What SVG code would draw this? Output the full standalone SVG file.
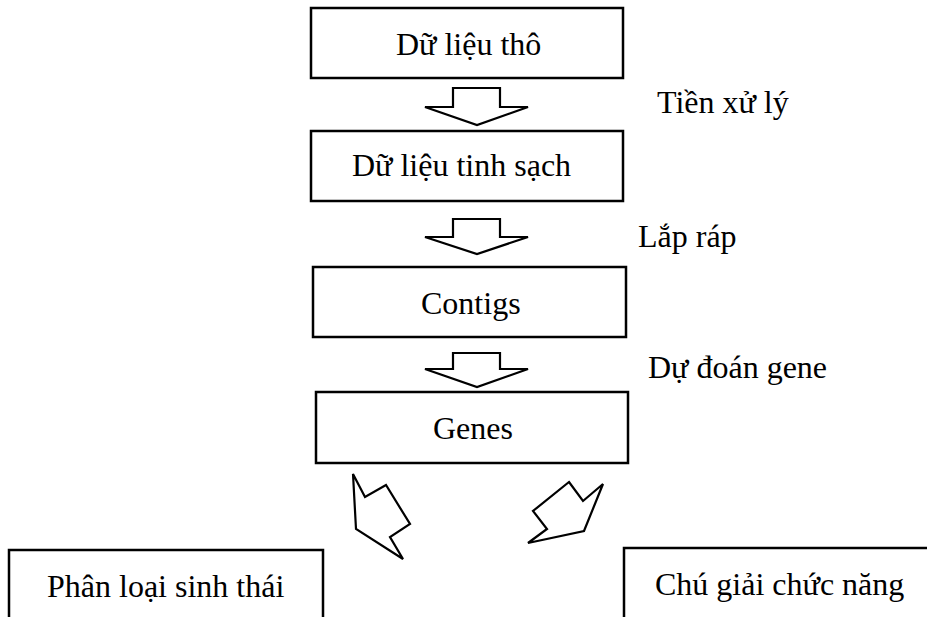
<svg xmlns="http://www.w3.org/2000/svg" width="927" height="617" viewBox="0 0 927 617">
<style>
.box{fill:#fff;stroke:#000;stroke-width:2.5}
.arr{fill:#fff;stroke:#000;stroke-width:2.2;stroke-linejoin:miter}
text{font-family:"Liberation Serif","Times New Roman",serif;font-size:32px;fill:#000}
</style>
<rect width="927" height="617" fill="#fff"/>
<g id="connectors">
<polygon class="arr" points="453,88 500,88 500,107 528,107 477,125 425,107 453,107"/>
<polygon class="arr" points="453,219 500,219 500,237 528,237 477,254 425,237 453,237"/>
<polygon class="arr" points="453,353 500,353 500,369 528,369 477,387 425,369 453,369"/>
<polygon class="arr" points="353,474 365,497 386,485 410,524 390,537 403,559 356,529"/>
<polygon class="arr" points="569,482 583,501 603,484 584,531 528,543 547,529 533,511"/>
<text x="657" y="113">Tiền xử lý</text>
<text x="638" y="247">Lắp ráp</text>
<text x="648" y="378">Dự đoán gene</text>
</g>
<g id="node-raw">
<rect class="box" x="311" y="8" width="312" height="70"/>
<text x="396" y="55">Dữ liệu thô</text>
</g>
<g id="node-clean">
<rect class="box" x="311" y="131" width="312" height="70"/>
<text x="352" y="176">Dữ liệu tinh sạch</text>
</g>
<g id="node-contigs">
<rect class="box" x="313" y="267" width="313" height="70"/>
<text x="421" y="314">Contigs</text>
</g>
<g id="node-genes">
<rect class="box" x="316" y="392" width="312" height="71"/>
<text x="433" y="439">Genes</text>
</g>
<g id="node-taxonomy">
<path class="box" d="M9,620 V550 H323 V620"/>
<text x="47" y="597">Phân loại sinh thái</text>
</g>
<g id="node-annotation">
<path class="box" d="M624,620 V548 H930"/>
<text x="655" y="595">Chú giải chức năng</text>
</g>
</svg>
